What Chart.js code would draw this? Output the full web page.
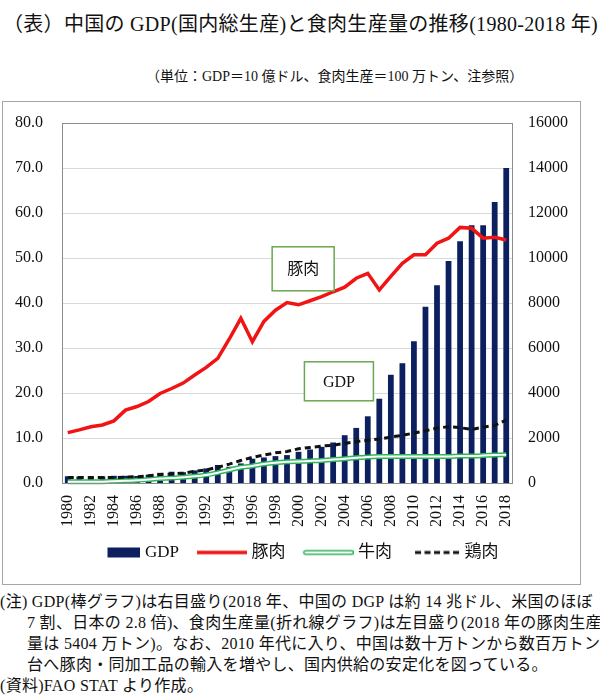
<!DOCTYPE html>
<html>
<head>
<meta charset="utf-8">
<script src="https://cdn.jsdelivr.net/npm/chart.js@4.4.1/dist/chart.umd.min.js"></script>
<style>
	body { margin:0; width:600px; height:700px; background:#fff; position:relative; overflow:hidden;
		font-family:"Liberation Serif","Noto Sans CJK JP",serif; color:#111; }
	#title { position:absolute; left:3px; top:8px; font-size:20px; letter-spacing:0.3px; white-space:nowrap; }
	#unit { position:absolute; left:146px; top:65px; font-size:14px; white-space:nowrap; }
	#frame { position:absolute; left:2px; top:101px; width:577px; height:482px; border:1px solid #a6a6a6; }
	#frame canvas { display:block; }
	#notes { position:absolute; left:0; top:591px; font-size:16px; letter-spacing:0.3px; line-height:21px; white-space:nowrap; }
	#notes .in { padding-left:27px; }
</style>
</head>
<body>
<div id="title">（表）中国の GDP(国内総生産)と食肉生産量の推移(1980-2018 年)</div>
<div id="unit">（単位：GDP＝10 億ドル、食肉生産＝100 万トン、注参照）</div>
<div id="frame"><canvas id="chart" width="577" height="482"></canvas></div>
<div id="notes">
	<div>(注) GDP(棒グラフ)は右目盛り(2018 年、中国の DGP は約 14 兆ドル、米国のほぼ</div>
	<div class="in">7 割、日本の 2.8 倍)、食肉生産量(折れ線グラフ)は左目盛り(2018 年の豚肉生産</div>
	<div class="in">量は 5404 万トン)。なお、2010 年代に入り、中国は数十万トンから数百万トン</div>
	<div class="in">台へ豚肉・同加工品の輸入を増やし、国内供給の安定化を図っている。</div>
	<div>(資料)FAO STAT より作成。</div>
</div>
<script>
var years = ['1980','1981','1982','1983','1984','1985','1986','1987','1988','1989',
	'1990','1991','1992','1993','1994','1995','1996','1997','1998','1999',
	'2000','2001','2002','2003','2004','2005','2006','2007','2008','2009',
	'2010','2011','2012','2013','2014','2015','2016','2017','2018'];

// GDP, 10 億ドル (right axis)
var gdp = [300,290,290,300,320,320,310,370,450,500,
	480,560,650,800,720,870,1080,1135,1195,1240,
	1385,1490,1607,1800,2124,2448,2965,3746,4810,5323,
	6296,7832,8792,9867,10750,11460,11460,12490,14000];

// 食肉生産, 100 万トン (left axis)
var pork = [11.2,11.8,12.5,12.9,13.8,16.2,17.0,18.1,19.9,21.0,
	22.2,24.0,25.7,27.7,32.0,36.6,31.4,35.9,38.4,40.1,
	39.6,40.5,41.4,42.5,43.5,45.5,46.6,42.9,45.9,48.8,
	50.7,50.7,53.3,54.4,56.8,56.6,54.4,54.6,54.0];
var beef = [0.3,0.3,0.3,0.3,0.4,0.5,0.6,0.8,1.0,1.1,
	1.3,1.5,1.8,2.3,2.9,3.5,3.8,4.2,4.5,4.7,
	4.8,4.9,5.0,5.2,5.4,5.6,5.8,5.9,5.9,5.9,
	5.9,5.9,5.9,5.9,6.0,6.0,6.1,6.2,6.3];
var chicken = [1.2,1.2,1.2,1.2,1.2,1.3,1.4,1.6,1.9,2.0,
	2.2,2.6,2.9,3.5,4.2,5.0,5.7,6.2,6.7,7.0,
	7.6,7.9,8.2,8.4,8.8,9.2,9.5,9.8,10.2,10.6,
	11.1,11.6,12.2,12.5,12.3,11.9,12.4,12.8,14.0];

var navy = '#0c1f5e';
var red = '#f01414';
var green = '#2fb45a';
var frameGray = '#8c8c8c';

Chart.defaults.font.family = '"Liberation Serif","Noto Sans CJK JP",serif';
Chart.defaults.color = '#111';

//	legend symbols drawn into small canvases, right-aligned so text follows closely
var makeSymbol = function(draw)
{
	var c = document.createElement('canvas');
	c.width = 60; c.height = 12;
	draw(c.getContext('2d'));
	return c;
};

var symbols = {
	0: makeSymbol(function(ctx){ ctx.fillStyle = navy; ctx.fillRect(27, 1, 33, 10); }),
	1: makeSymbol(function(ctx){ ctx.strokeStyle = red; ctx.lineWidth = 3.5; ctx.beginPath(); ctx.moveTo(10, 6); ctx.lineTo(60, 6); ctx.stroke(); }),
	2: makeSymbol(function(ctx){
		ctx.lineCap = 'round';
		ctx.strokeStyle = green; ctx.lineWidth = 5; ctx.beginPath(); ctx.moveTo(12, 6); ctx.lineTo(58, 6); ctx.stroke();
		ctx.strokeStyle = '#fff'; ctx.lineWidth = 2; ctx.beginPath(); ctx.moveTo(12, 6); ctx.lineTo(58, 6); ctx.stroke();
	}),
	4: makeSymbol(function(ctx){ ctx.strokeStyle = '#111'; ctx.lineWidth = 3; ctx.setLineDash([6, 3.5]); ctx.beginPath(); ctx.moveTo(15, 6); ctx.lineTo(60, 6); ctx.stroke(); })
};

var labelBoxes = [
	{ text: '豚肉', x: 20.4, y: 47.6, w: 62, h: 44 },
	{ text: 'GDP', x: 23.5, y: 22.6, w: 69, h: 39 }
];

//	fixed axis widths; drop the label half-height padding so layout.padding.top wins
var fixWidth = function(w)
{
	return function(scale)
	{
		scale.width = w;
		scale.paddingTop = 0;
		scale.paddingBottom = 0;
	};
};

var framePlugin = {
	id: 'frame',
	afterDatasetsDraw: function(chart)
	{
		var ctx = chart.ctx;
		var a = chart.chartArea;
		ctx.save();
		ctx.strokeStyle = frameGray;
		ctx.lineWidth = 1;
		ctx.strokeRect(Math.round(a.left) + 0.5, Math.round(a.top) + 0.5, Math.round(a.right - a.left), Math.round(a.bottom - a.top));

		var xs = chart.scales.x, ys = chart.scales.y;
		labelBoxes.forEach(function(b)
		{
			var cx = xs.getPixelForValue(b.x);
			var cy = ys.getPixelForValue(b.y);
			ctx.fillStyle = '#fff';
			ctx.fillRect(cx - b.w / 2, cy - b.h / 2, b.w, b.h);
			ctx.strokeStyle = '#6aa84f';
			ctx.lineWidth = 1.5;
			ctx.strokeRect(cx - b.w / 2, cy - b.h / 2, b.w, b.h);
			ctx.fillStyle = '#111';
			ctx.font = '16px "Liberation Serif","Noto Sans CJK JP",serif';
			ctx.textAlign = 'center';
			ctx.textBaseline = 'middle';
			ctx.fillText(b.text, cx, cy + 1);
		});
		ctx.restore();
	}
};

new Chart(document.getElementById('chart'), {
	type: 'bar',
	data: {
		labels: years,
		datasets: [
			{ type:'bar', label:'GDP', data:gdp, yAxisID:'y1', backgroundColor:navy, barPercentage:0.5, categoryPercentage:1, order:10 },
			{ type:'line', label:'豚肉', data:pork, yAxisID:'y', borderColor:red, borderWidth:3.5, pointRadius:0, tension:0, fill:false, order:1 },
			{ type:'line', label:'牛肉', data:beef, yAxisID:'y', borderColor:green, borderWidth:5, pointRadius:0, tension:0.2, fill:false, clip:false, order:3 },
			{ type:'line', label:'牛肉内', data:beef, yAxisID:'y', borderColor:'#fff', borderWidth:2, pointRadius:0, tension:0.2, fill:false, clip:false, order:2 },
			{ type:'line', label:'鶏肉', data:chicken, yAxisID:'y', borderColor:'#111', borderWidth:3, borderDash:[6,4], pointRadius:0, tension:0, fill:false, order:2 }
		]
	},
	options: {
		responsive: false,
		animation: false,
		events: [],
		layout: { padding: { top:21, left:0, bottom:13, right:0 } },
		plugins: {
			tooltip: { enabled:false },
			legend: {
				position: 'bottom',
				labels: {
					usePointStyle: true,
					pointStyleWidth: 52,
					boxHeight: 12,
					padding: 12,
					font: { size:17 },
					color: '#111',
					generateLabels: function(chart)
					{
						var items = Chart.defaults.plugins.legend.labels.generateLabels(chart);
						items = items.filter(function(it){ return symbols[it.datasetIndex]; });
						items.sort(function(a, b){ return a.datasetIndex - b.datasetIndex; });
						items.forEach(function(it){ it.pointStyle = symbols[it.datasetIndex]; });
						return items;
					}
				}
			}
		},
		scales: {
			x: {
				offset: true,
				grid: { display:false },
				border: { color:frameGray },
				afterFit: function(scale){ scale.height = 49; },
				ticks: {
					autoSkip: false, minRotation: 90, maxRotation: 90, padding: 4,
					font: { size:16 },
					callback: function(v, i){ return i % 2 === 0 ? years[i] : ''; }
				}
			},
			y: {
				position: 'left', min: 0, max: 80,
				grid: { color:'#d9d9d9', drawTicks:false },
				border: { display:false },
				afterFit: fixWidth(59),
				ticks: { stepSize:10, padding:19, font:{ size:16 }, callback: function(v){ return v.toFixed(1); } }
			},
			y1: {
				position: 'right', min: 0, max: 16000,
				grid: { display:false, drawTicks:false },
				border: { display:false },
				afterFit: fixWidth(68),
				ticks: { stepSize:2000, padding:16, font:{ size:16 }, callback: function(v){ return String(v); } }
			}
		}
	},
	plugins: [framePlugin]
});
</script>
</body>
</html>
